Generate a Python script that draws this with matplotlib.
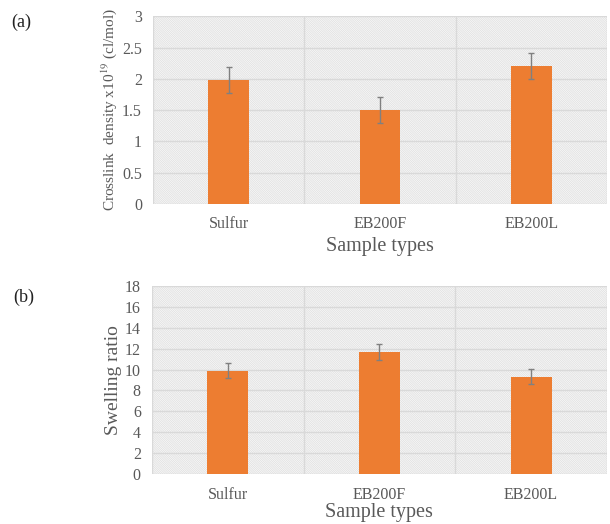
import numpy as np
import matplotlib
matplotlib.use("Agg")
import matplotlib.pyplot as plt
from matplotlib.patches import Rectangle

plt.rcParams['font.family'] = ['Liberation Serif', 'DejaVu Serif']
plt.rcParams['mathtext.fontset'] = 'stix'
plt.rcParams['hatch.color'] = '#dcdcdc'
plt.rcParams['hatch.linewidth'] = 0.5

# Datos
samples = ['Sulfur', 'EB200F', 'EB200L']
crosslink = [1.98, 1.50, 2.20]
crosslink_err = [0.21, 0.21, 0.21]
swelling = [9.9, 11.7, 9.3]
swelling_err = [0.75, 0.75, 0.72]

BAR = '#ed7d31'
TXT = '#595959'
GRID = '#d9d9d9'


def panel(ax, vals, errs, ymax, step, ylabel, ylab_size, xlab_pad):
    x = np.arange(len(samples))
    # fondo rayado
    ax.add_patch(Rectangle((0, 0), 1, 1, transform=ax.transAxes, facecolor='white',
                           hatch='\\' * 18, edgecolor='#dcdcdc', linewidth=0, zorder=0))
    ax.bar(x, vals, width=0.27, color=BAR, zorder=3)
    ax.errorbar(x, vals, yerr=errs, fmt='none', ecolor='#808080', elinewidth=1,
                capsize=2.5, capthick=1, zorder=4)
    ax.set_xlim(-0.5, len(samples) - 0.5)
    ax.set_ylim(0, ymax)
    ticks = np.arange(0, ymax + step / 2, step)
    ax.set_yticks(ticks)
    ax.set_yticklabels([f'{t:g}' for t in ticks])
    for t in ticks:
        ax.axhline(t, color=GRID, lw=1, zorder=1)
    for b in np.arange(-0.5, len(samples), 1.0):
        ax.axvline(b, color=GRID, lw=1, zorder=1)
    ax.set_xticks(x)
    ax.set_xticklabels(samples)
    ax.tick_params(length=0, labelsize=11.5, colors=TXT, pad=8)
    ax.tick_params(axis='x', pad=9)
    for s in ax.spines.values():
        s.set_visible(False)
    ax.set_xlabel('Sample types', fontsize=14.5, color=TXT, labelpad=xlab_pad)
    ax.set_ylabel(ylabel, fontsize=ylab_size, color=TXT, labelpad=2)


fig = plt.figure(figsize=(6.10, 5.24), dpi=100)
ax1 = fig.add_axes([0.251, 0.611, 0.744, 0.358])
ax2 = fig.add_axes([0.249, 0.0954, 0.746, 0.359])

panel(ax1, crosslink, crosslink_err, 3, 0.5,
      'Crosslink  density x10$^{19}$ (cl/mol)', 11, 3)
panel(ax2, swelling, swelling_err, 18, 2, 'Swelling ratio', 14, 0.5)

fig.text(0.018, 0.957, '(a)', fontsize=13, color='#222222', va='center')
fig.text(0.022, 0.433, '(b)', fontsize=13, color='#222222', va='center')

fig.savefig('out.png', dpi=100)
